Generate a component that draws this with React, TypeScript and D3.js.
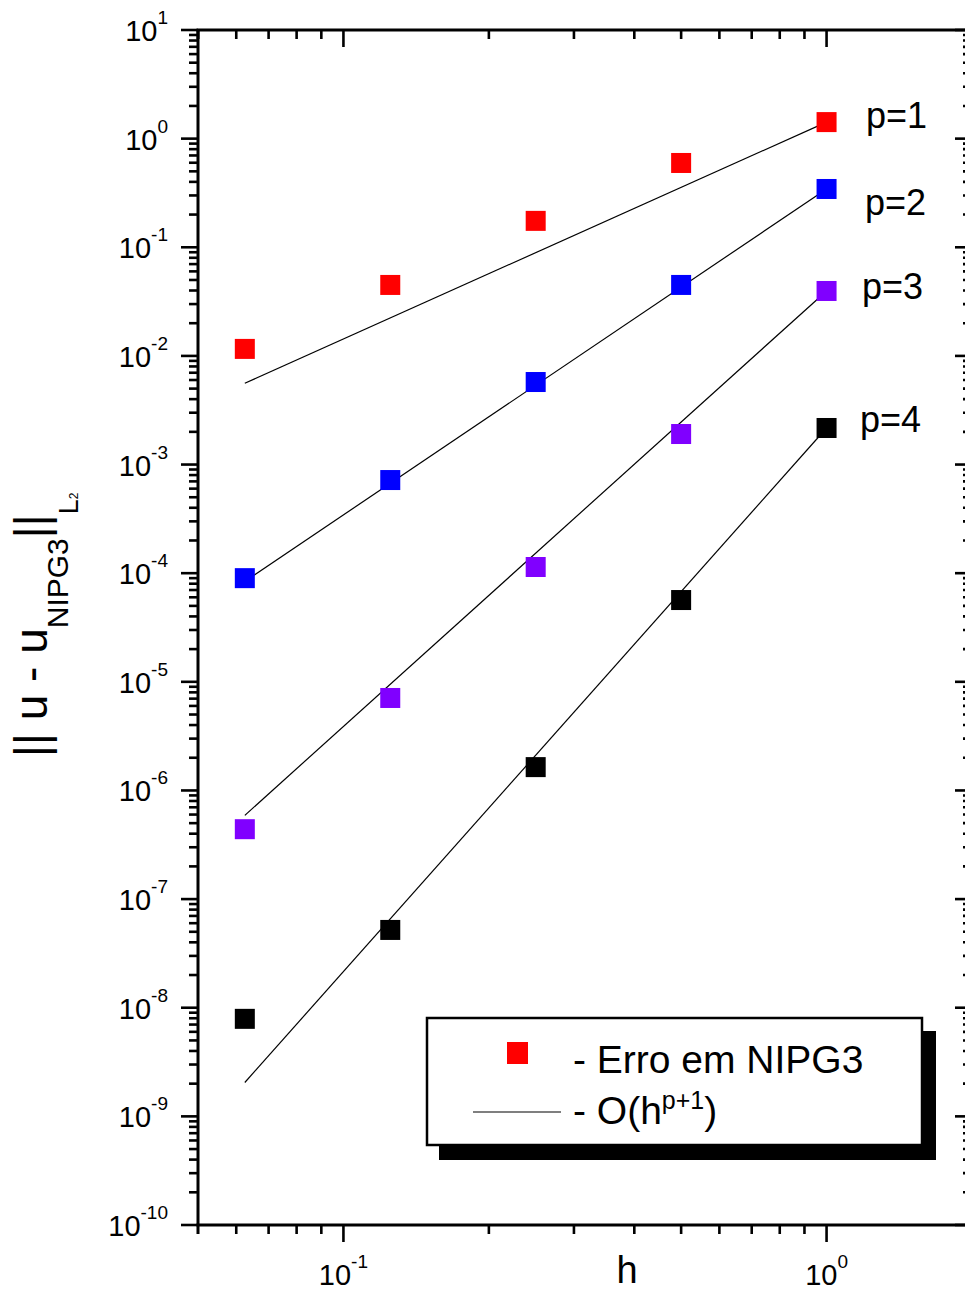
import React from "react";
import * as d3 from "d3";

// ---- data ----
const hValues = [0.0625, 0.125, 0.25, 0.5, 1];
const seriesLabels = ["p=1", "p=2", "p=3", "p=4"];
const seriesColors = ["#ff0000", "#0000ff", "#8000ff", "#000000"];
const errP1 = [0.0116, 0.045, 0.175, 0.597, 1.42];
const errP2 = [9.0e-5, 7.2e-4, 5.75e-3, 0.045, 0.344];
const errP3 = [4.4e-7, 7.1e-6, 1.14e-4, 1.91e-3, 0.0396];
const errP4 = [7.9e-9, 5.2e-8, 1.64e-6, 5.66e-5, 2.17e-3];
// reference lines O(h^{p+1}): values at h = 1/16 and h = 1
const refLineH = [0.0625, 1];
const refLineStart = [5.6e-3, 8.4e-5, 5.9e-7, 2.05e-9];
const refLineEnd = [1.42, 0.344, 0.0396, 2.17e-3];
const yTickExps = [1, 0, -1, -2, -3, -4, -5, -6, -7, -8, -9, -10];
const xTickExps = [-1, 0];
const labelPos = [
  { x: 866, y: 128 },
  { x: 865, y: 215 },
  { x: 862, y: 299 },
  { x: 860, y: 432 },
];

const W = 965;
const H = 1292;
const FONT = "'Liberation Sans', Arial, Helvetica, sans-serif";

export default function App() {
  const x = d3.scaleLog().domain([0.05, 2]).range([198, 972]);
  const y = d3.scaleLog().domain([1e-10, 1e1]).range([1225, 30]);
  const allSeries = [errP1, errP2, errP3, errP4];

  const left = 198, right = 972, top = 30, bottom = 1225;
  const majorLen = 17, minorLen = 9;

  const yMinor: number[] = [];
  for (let e = -10; e < 1; e++) {
    for (let m = 2; m <= 9; m++) yMinor.push(m * Math.pow(10, e));
  }
  const xMinor: number[] = [];
  for (let e = -2; e <= 0; e++) {
    for (let m = 2; m <= 9; m++) {
      const v = m * Math.pow(10, e);
      if (v >= 0.05 && v <= 2) xMinor.push(v);
    }
  }
  xMinor.push(0.05);

  const line = d3
    .line<[number, number]>()
    .x((d) => x(d[0]))
    .y((d) => y(d[1]));

  const sq = 20;

  return (
    <svg
      width={W}
      height={H}
      style={{ position: "absolute", left: 0, top: 0, display: "block", background: "#fff" }}
      fontFamily={FONT}
    >
      <rect x={0} y={0} width={W} height={H} fill="#fff" />

      {/* reference lines */}
      {refLineStart.map((s, i) => (
        <path
          key={"ref" + i}
          d={line([
            [refLineH[0], s],
            [refLineH[1], refLineEnd[i]],
          ]) as string}
          stroke="#000"
          strokeWidth={1.2}
          fill="none"
        />
      ))}

      {/* markers */}
      {allSeries.map((vals, si) =>
        vals.map((v, i) => (
          <rect
            key={`m${si}-${i}`}
            x={x(hValues[i]) - sq / 2}
            y={y(v) - sq / 2}
            width={sq}
            height={sq}
            fill={seriesColors[si]}
          />
        ))
      )}

      {/* series labels */}
      {seriesLabels.map((t, i) => (
        <text key={t} x={labelPos[i].x} y={labelPos[i].y} fontSize={36} fill="#000">
          {t}
        </text>
      ))}

      {/* axes lines */}
      <g stroke="#000" strokeWidth={3} fill="none">
        <line x1={left} y1={top} x2={left} y2={bottom} />
        <line x1={right} y1={top} x2={right} y2={bottom} />
        <line x1={left - 1.5} y1={top} x2={right} y2={top} />
        <line x1={left - 1.5} y1={bottom} x2={right} y2={bottom} />
      </g>

      {/* ticks */}
      <g stroke="#000" strokeWidth={2.6}>
        {yTickExps.map((e) => (
          <g key={"yt" + e}>
            <line x1={left - majorLen} x2={left} y1={y(Math.pow(10, e))} y2={y(Math.pow(10, e))} />
            <line x1={right - majorLen} x2={right} y1={y(Math.pow(10, e))} y2={y(Math.pow(10, e))} />
          </g>
        ))}
        {yMinor.map((v, i) => (
          <g key={"ym" + i}>
            <line x1={left - minorLen} x2={left} y1={y(v)} y2={y(v)} />
            <line x1={right - minorLen} x2={right} y1={y(v)} y2={y(v)} />
          </g>
        ))}
        {xTickExps.map((e) => (
          <g key={"xt" + e}>
            <line x1={x(Math.pow(10, e))} x2={x(Math.pow(10, e))} y1={bottom} y2={bottom + majorLen} />
            <line x1={x(Math.pow(10, e))} x2={x(Math.pow(10, e))} y1={top} y2={top + majorLen} />
          </g>
        ))}
        {xMinor.map((v, i) => (
          <g key={"xm" + i}>
            <line x1={x(v)} x2={x(v)} y1={bottom} y2={bottom + minorLen} />
            <line x1={x(v)} x2={x(v)} y1={top} y2={top + minorLen} />
          </g>
        ))}
      </g>

      {/* y tick labels */}
      {yTickExps.map((e) => (
        <text
          key={"yl" + e}
          x={168}
          y={y(Math.pow(10, e)) + 11}
          fontSize={29}
          textAnchor="end"
          fill="#000"
        >
          10
          <tspan fontSize={19} dy={-17}>
            {String(e)}
          </tspan>
        </text>
      ))}

      {/* x tick labels */}
      {xTickExps.map((e) => (
        <text key={"xl" + e} x={x(Math.pow(10, e))} y={1285} fontSize={29} textAnchor="middle" fill="#000">
          10
          <tspan fontSize={19} dy={-17}>
            {String(e)}
          </tspan>
        </text>
      ))}

      {/* axis titles */}
      <text x={627} y={1283} fontSize={38} textAnchor="middle" fill="#000">
        h
      </text>
      <text transform="translate(47,757) rotate(-90)" fontSize={46} fill="#000">
        || u - u
        <tspan fontSize={30} dy={21}>
          NIPG3
        </tspan>
        <tspan fontSize={46} dy={-21}>
          ||
        </tspan>
        <tspan fontSize={27} dy={31}>
          L
        </tspan>
        <tspan fontSize={12}>2</tspan>
      </text>

      {/* legend */}
      <rect x={439} y={1031} width={497} height={129} fill="#000" />
      <rect x={427} y={1018} width={495} height={127} fill="#fff" stroke="#000" strokeWidth={2.5} />
      <rect x={507} y={1042} width={21} height={22} fill={seriesColors[0]} />
      <text x={573} y={1073} fontSize={39} fill="#000">
        - Erro em NIPG3
      </text>
      <line x1={473} x2={561} y1={1112} y2={1112} stroke="#000" strokeWidth={1.2} />
      <text x={573} y={1124} fontSize={39} fill="#000">
        - O(h
        <tspan fontSize={25} dy={-15}>
          p+1
        </tspan>
        <tspan fontSize={39} dy={15}>
          )
        </tspan>
      </text>
    </svg>
  );
}
